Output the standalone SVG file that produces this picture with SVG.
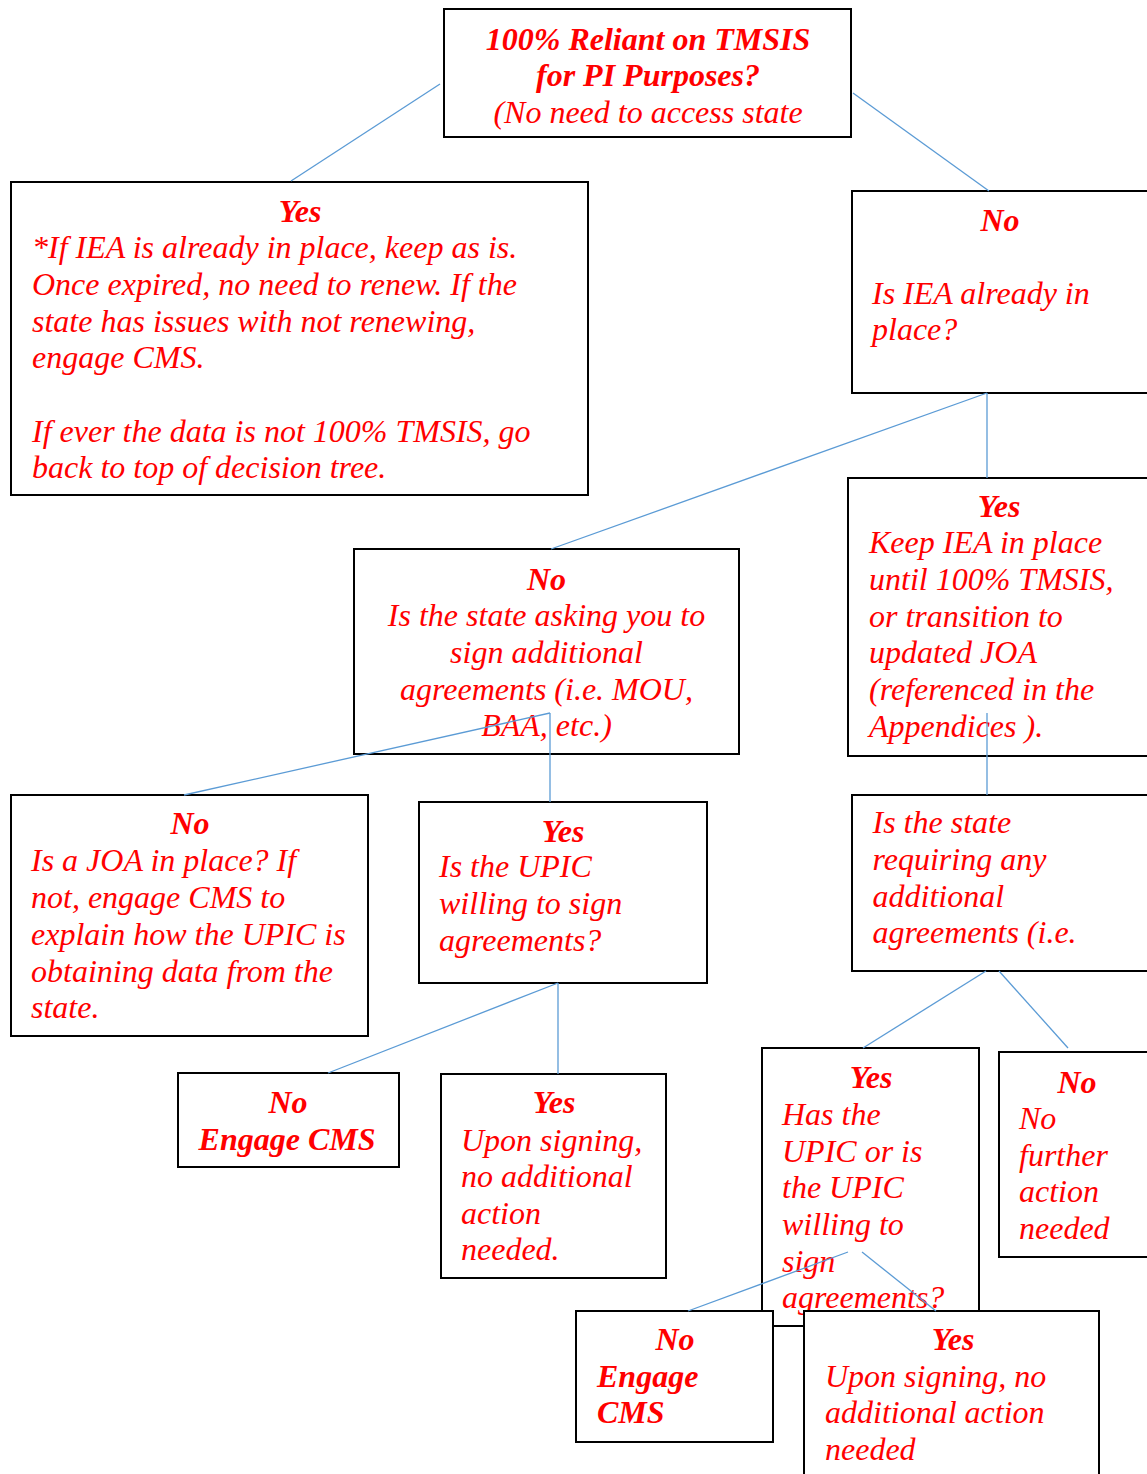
<svg xmlns="http://www.w3.org/2000/svg" width="1147" height="1474" viewBox="0 0 1147 1474">
<style>
.box{fill:#fff;stroke:#000;stroke-width:2}
.t{font-family:"Liberation Serif","Times New Roman",serif;font-style:italic;font-size:32px;fill:#ff0000}
.b{font-weight:bold}
.c{text-anchor:middle}
.ln{stroke:#5b9bd5;stroke-width:1.3;fill:none}
</style>
<rect width="1147" height="1474" fill="#fff"/>

<g id="n-top">
<rect class="box" x="444" y="9" width="407" height="128"/>
<text class="t b c" x="648" y="50">100% Reliant on TMSIS</text>
<text class="t b c" x="648" y="86">for PI Purposes?</text>
<text class="t c" x="648" y="123">(No need to access state</text>
</g>

<g id="n-yes1">
<rect class="box" x="11" y="182" width="577" height="313"/>
<text class="t b c" x="300" y="222">Yes</text>
<text class="t" x="32" y="258">*If IEA is already in place, keep as is.</text>
<text class="t" x="32" y="295">Once expired, no need to renew. If the</text>
<text class="t" x="32" y="332">state has issues with not renewing,</text>
<text class="t" x="32" y="368">engage CMS.</text>
<text class="t" x="32" y="442">If ever the data is not 100% TMSIS, go</text>
<text class="t" x="32" y="478">back to top of decision tree.</text>
</g>

<g id="n-no1">
<rect class="box" x="852" y="191" width="300" height="202"/>
<text class="t b c" x="1000" y="231">No</text>
<text class="t" x="872" y="304">Is IEA already in</text>
<text class="t" x="872" y="340">place?</text>
</g>

<g id="n-no2">
<rect class="box" x="354" y="549" width="385" height="205"/>
<text class="t b c" x="546.5" y="590">No</text>
<text class="t c" x="546.5" y="626">Is the state asking you to</text>
<text class="t c" x="546.5" y="663">sign additional</text>
<text class="t c" x="546.5" y="700">agreements (i.e. MOU,</text>
<text class="t c" x="546.5" y="736">BAA, etc.)</text>
</g>

<g id="n-yes2">
<rect class="box" x="848" y="478" width="302" height="278"/>
<text class="t b c" x="999" y="517">Yes</text>
<text class="t" x="869" y="553">Keep IEA in place</text>
<text class="t" x="869" y="590">until 100% TMSIS,</text>
<text class="t" x="869" y="627">or transition to</text>
<text class="t" x="869" y="663">updated JOA</text>
<text class="t" x="869" y="700">(referenced in the</text>
<text class="t" x="869" y="737">Appendices ).</text>
</g>

<g id="n-state-req">
<rect class="box" x="852" y="795" width="300" height="176"/>
<text class="t" x="872.5" y="833">Is the state</text>
<text class="t" x="872.5" y="870">requiring any</text>
<text class="t" x="872.5" y="907">additional</text>
<text class="t" x="872.5" y="943">agreements (i.e.</text>
</g>

<g id="n-no-joa">
<rect class="box" x="11" y="795" width="357" height="241"/>
<text class="t b c" x="190" y="834">No</text>
<text class="t" x="31" y="871">Is a JOA in place? If</text>
<text class="t" x="31" y="908">not, engage CMS to</text>
<text class="t" x="31" y="945">explain how the UPIC is</text>
<text class="t" x="31" y="982">obtaining data from the</text>
<text class="t" x="31" y="1018">state.</text>
</g>

<g id="n-yes-upic">
<rect class="box" x="419" y="802" width="288" height="181"/>
<text class="t b c" x="563" y="842">Yes</text>
<text class="t" x="439" y="877">Is the UPIC</text>
<text class="t" x="439" y="914">willing to sign</text>
<text class="t" x="439" y="951">agreements?</text>
</g>

<g id="n-no-engage1">
<rect class="box" x="178" y="1073" width="221" height="94"/>
<text class="t b c" x="288" y="1113">No</text>
<text class="t b c" x="287" y="1150">Engage CMS</text>
</g>

<g id="n-yes-sign1">
<rect class="box" x="441" y="1074" width="225" height="204"/>
<text class="t b c" x="554" y="1113">Yes</text>
<text class="t" x="461" y="1151">Upon signing,</text>
<text class="t" x="461" y="1187">no additional</text>
<text class="t" x="461" y="1224">action</text>
<text class="t" x="461" y="1260">needed.</text>
</g>

<g id="n-yes-has-upic">
<rect class="box" x="762" y="1048" width="217" height="278"/>
<text class="t b c" x="871" y="1088">Yes</text>
<text class="t" x="782" y="1125">Has the</text>
<text class="t" x="782" y="1162">UPIC or is</text>
<text class="t" x="782" y="1198">the UPIC</text>
<text class="t" x="782" y="1235">willing to</text>
<text class="t" x="782" y="1272">sign</text>
<text class="t" x="782" y="1308">agreements?</text>
</g>

<g id="n-no-further">
<rect class="box" x="999" y="1052" width="156" height="205"/>
<text class="t b c" x="1077" y="1093">No</text>
<text class="t" x="1019" y="1129">No</text>
<text class="t" x="1019" y="1166">further</text>
<text class="t" x="1019" y="1202">action</text>
<text class="t" x="1019" y="1239">needed</text>
</g>

<g id="n-no-engage2">
<rect class="box" x="576" y="1311" width="197" height="131"/>
<text class="t b c" x="675" y="1350">No</text>
<text class="t b" x="597" y="1387">Engage</text>
<text class="t b" x="597" y="1423">CMS</text>
</g>

<g id="n-yes-sign2">
<rect class="box" x="804" y="1311" width="295" height="175"/>
<text class="t b c" x="953" y="1350">Yes</text>
<text class="t" x="825" y="1387">Upon signing, no</text>
<text class="t" x="825" y="1423">additional action</text>
<text class="t" x="825" y="1460">needed</text>
</g>

<g id="connectors">
<line class="ln" x1="440" y1="84" x2="291" y2="181"/>
<line class="ln" x1="853" y1="93" x2="989" y2="191"/>
<line class="ln" x1="987" y1="393" x2="551" y2="549"/>
<line class="ln" x1="987" y1="393" x2="987" y2="478"/>
<line class="ln" x1="550" y1="713" x2="184" y2="795"/>
<line class="ln" x1="550" y1="713" x2="550" y2="802"/>
<line class="ln" x1="987" y1="713" x2="987" y2="795"/>
<line class="ln" x1="558" y1="983" x2="328" y2="1073"/>
<line class="ln" x1="558" y1="983" x2="558" y2="1074"/>
<line class="ln" x1="986" y1="971" x2="863" y2="1048"/>
<line class="ln" x1="999" y1="971" x2="1068" y2="1048"/>
<line class="ln" x1="848" y1="1252" x2="688" y2="1311"/>
<line class="ln" x1="862" y1="1252" x2="936" y2="1311"/>
</g>
</svg>
